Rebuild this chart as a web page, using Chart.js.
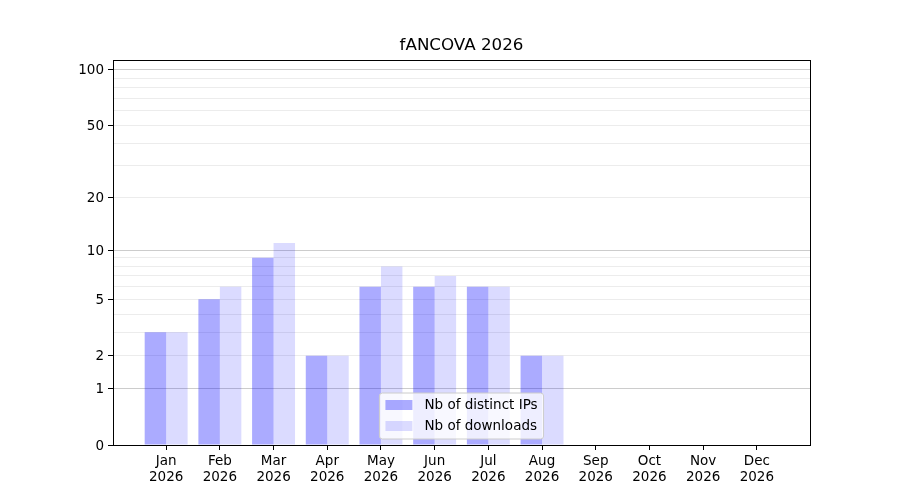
<!DOCTYPE html>
<html>
<head>
<meta charset="utf-8">
<script src="https://cdn.jsdelivr.net/npm/chart.js@4/dist/chart.umd.min.js"></script>
<style>
  body { margin: 0; background: #fff; }
</style>
</head>
<body>
<canvas id="chart" width="900" height="500"></canvas>
<script>
const months = ['Jan', 'Feb', 'Mar', 'Apr', 'May', 'Jun', 'Jul', 'Aug', 'Sep', 'Oct', 'Nov', 'Dec'];
const year = '2026';
const distinctIPs = [3, 5, 9, 2, 6, 6, 6, 2];
const downloads = [3, 6, 11, 2, 8, 7, 6, 2];
const yLabelled = [0, 1, 2, 5, 10, 20, 50, 100];
const yMinor = [3, 4, 6, 7, 8, 9, 30, 40, 60, 70, 80, 90];
const yMajorGrid = [1, 10, 100];

// the y axis is log(1 + x)
const fwd = v => Math.log10(1 + v);
const inv = v => Math.round(Math.pow(10, v) - 1);

const FONT = 'DejaVu Sans';

const frame = {
  id: 'frame',
  afterDraw(chart) {
    const { ctx, chartArea: a } = chart;
    ctx.save();
    ctx.strokeStyle = '#000';
    ctx.lineWidth = 1;
    ctx.strokeRect(Math.round(a.left) + 0.5, Math.round(a.top) + 0.5,
      Math.round(a.right - a.left), Math.round(a.bottom - a.top));

    // legend box, lower centre of the plot
    ctx.font = '13.5px ' + FONT;
    const items = chart.data.datasets;
    const textW = Math.max(...items.map(d => ctx.measureText(d.label).width));
    const w = 6 + 27 + 12 + textW + 6;
    const h = 46;
    const x = (a.left + a.right) / 2 - w / 2;
    const y = a.bottom - 6 - h;
    ctx.fillStyle = 'rgba(255,255,255,0.8)';
    ctx.strokeStyle = '#cccccc';
    ctx.beginPath();
    ctx.roundRect(x, y, w, h, 3);
    ctx.fill();
    ctx.stroke();
    items.forEach((d, i) => {
      const cy = y + 12 + i * 21;
      ctx.fillStyle = d.backgroundColor;
      ctx.fillRect(x + 6, cy - 5, 27, 10);
      ctx.fillStyle = '#000';
      ctx.textBaseline = 'middle';
      ctx.fillText(d.label, x + 45, cy);
    });
    ctx.restore();
  }
};

new Chart(document.getElementById('chart'), {
  type: 'bar',
  data: {
    datasets: [
      {
        label: 'Nb of distinct IPs',
        data: distinctIPs.map((v, i) => ({ x: i, y: fwd(v) })),
        backgroundColor: 'rgba(0,0,255,0.33)'
      },
      {
        label: 'Nb of downloads',
        data: downloads.map((v, i) => ({ x: i, y: fwd(v) })),
        backgroundColor: 'rgba(0,0,255,0.14)'
      }
    ]
  },
  options: {
    responsive: false,
    devicePixelRatio: 1,
    animation: false,
    categoryPercentage: 0.8,
    barPercentage: 1.0,
    layout: { padding: { left: 0, right: 90, top: 0, bottom: 0 } },
    plugins: {
      legend: { display: false },
      tooltip: { enabled: false },
      title: {
        display: true,
        fullSize: false,
        text: 'fANCOVA ' + year,
        color: '#000',
        font: { family: FONT, size: 16.7, weight: 'normal' },
        padding: { top: 36, bottom: 4 }
      }
    },
    scales: {
      x: {
        type: 'linear',
        offset: false,
        min: -0.99,
        max: 11.99,
        afterBuildTicks: s => { s.ticks = months.map((m, i) => ({ value: i })); },
        afterFit: s => { s.height = 55; },
        ticks: {
          color: '#000',
          font: { family: FONT, size: 13.5 },
          padding: 3,
          maxRotation: 0,
          autoSkip: false,
          callback: v => [months[v], year]
        },
        grid: { offset: false, drawOnChartArea: false, drawTicks: true, tickLength: 5, tickColor: '#000' },
        border: { color: '#000' }
      },
      y: {
        type: 'linear',
        min: 0,
        max: fwd(113),
        afterBuildTicks: s => {
          s.ticks = [...yLabelled, ...yMinor].sort((a, b) => a - b).map(v => ({ value: fwd(v) }));
        },
        afterFit: s => { s.width = 113; },
        ticks: {
          color: '#000',
          font: { family: FONT, size: 13.5 },
          padding: 4,
          labelOffset: 1,
          callback: v => yLabelled.includes(inv(v)) ? String(inv(v)) : ''
        },
        grid: {
          tickLength: 5,
          color: c => yMajorGrid.includes(inv(c.tick.value)) ? '#cccccc' : '#ececec',
          tickColor: c => yLabelled.includes(inv(c.tick.value)) ? '#000' : 'rgba(0,0,0,0)'
        },
        border: { color: '#000' }
      }
    }
  },
  plugins: [frame]
});
</script>
</body>
</html>
